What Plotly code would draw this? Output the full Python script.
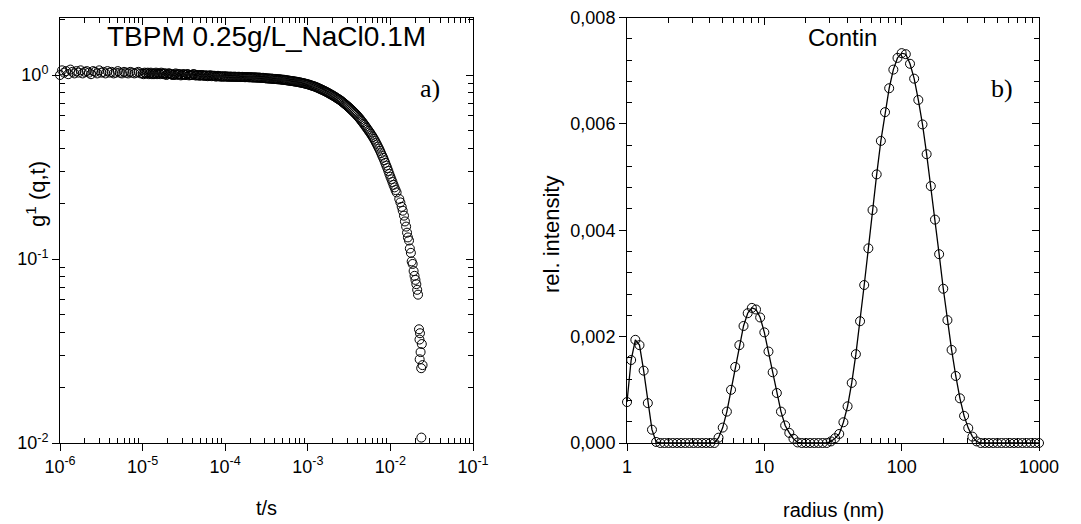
import plotly.graph_objects as go

# ---------------- Panel a): correlation function ----------------
t_s = [
    # 1e-6 .. 1e-5
    1.000e-6, 1.059e-6, 1.122e-6, 1.189e-6, 1.259e-6, 1.334e-6, 1.413e-6, 1.496e-6, 1.585e-6, 1.679e-6,
    1.778e-6, 1.884e-6, 1.995e-6, 2.113e-6, 2.239e-6, 2.371e-6, 2.512e-6, 2.661e-6, 2.818e-6, 2.985e-6,
    3.162e-6, 3.350e-6, 3.548e-6, 3.758e-6, 3.981e-6, 4.217e-6, 4.467e-6, 4.732e-6, 5.012e-6, 5.309e-6,
    5.623e-6, 5.957e-6, 6.310e-6, 6.683e-6, 7.079e-6, 7.499e-6, 7.943e-6, 8.414e-6, 8.913e-6, 9.441e-6,
    # 1e-5 .. 1e-4
    1.000e-5, 1.029e-5, 1.059e-5, 1.090e-5, 1.122e-5, 1.155e-5, 1.189e-5, 1.224e-5, 1.259e-5, 1.296e-5,
    1.334e-5, 1.373e-5, 1.413e-5, 1.454e-5, 1.496e-5, 1.540e-5, 1.585e-5, 1.631e-5, 1.679e-5, 1.728e-5,
    1.778e-5, 1.830e-5, 1.884e-5, 1.939e-5, 1.995e-5, 2.054e-5, 2.113e-5, 2.175e-5, 2.239e-5, 2.304e-5,
    2.371e-5, 2.440e-5, 2.512e-5, 2.585e-5, 2.661e-5, 2.739e-5, 2.818e-5, 2.901e-5, 2.985e-5, 3.072e-5,
    3.162e-5, 3.255e-5, 3.350e-5, 3.448e-5, 3.548e-5, 3.652e-5, 3.758e-5, 3.868e-5, 3.981e-5, 4.097e-5,
    4.217e-5, 4.340e-5, 4.467e-5, 4.597e-5, 4.732e-5, 4.870e-5, 5.012e-5, 5.158e-5, 5.309e-5, 5.464e-5,
    5.623e-5, 5.788e-5, 5.957e-5, 6.131e-5, 6.310e-5, 6.494e-5, 6.683e-5, 6.879e-5, 7.079e-5, 7.286e-5,
    7.499e-5, 7.718e-5, 7.943e-5, 8.175e-5, 8.414e-5, 8.660e-5, 8.913e-5, 9.173e-5, 9.441e-5, 9.716e-5,
    # 1e-4 .. 1e-3
    1.000e-4, 1.029e-4, 1.059e-4, 1.090e-4, 1.122e-4, 1.155e-4, 1.189e-4, 1.224e-4, 1.259e-4, 1.296e-4,
    1.334e-4, 1.373e-4, 1.413e-4, 1.454e-4, 1.496e-4, 1.540e-4, 1.585e-4, 1.631e-4, 1.679e-4, 1.728e-4,
    1.778e-4, 1.830e-4, 1.884e-4, 1.939e-4, 1.995e-4, 2.054e-4, 2.113e-4, 2.175e-4, 2.239e-4, 2.304e-4,
    2.371e-4, 2.440e-4, 2.512e-4, 2.585e-4, 2.661e-4, 2.739e-4, 2.818e-4, 2.901e-4, 2.985e-4, 3.072e-4,
    3.162e-4, 3.255e-4, 3.350e-4, 3.448e-4, 3.548e-4, 3.652e-4, 3.758e-4, 3.868e-4, 3.981e-4, 4.097e-4,
    4.217e-4, 4.340e-4, 4.467e-4, 4.597e-4, 4.732e-4, 4.870e-4, 5.012e-4, 5.158e-4, 5.309e-4, 5.464e-4,
    5.623e-4, 5.788e-4, 5.957e-4, 6.131e-4, 6.310e-4, 6.494e-4, 6.683e-4, 6.879e-4, 7.079e-4, 7.286e-4,
    7.499e-4, 7.718e-4, 7.943e-4, 8.175e-4, 8.414e-4, 8.660e-4, 8.913e-4, 9.173e-4, 9.441e-4, 9.716e-4,
    # 1e-3 .. 1e-2
    1.000e-3, 1.029e-3, 1.059e-3, 1.090e-3, 1.122e-3, 1.155e-3, 1.189e-3, 1.224e-3, 1.259e-3, 1.296e-3,
    1.334e-3, 1.373e-3, 1.413e-3, 1.454e-3, 1.496e-3, 1.540e-3, 1.585e-3, 1.631e-3, 1.679e-3, 1.728e-3,
    1.778e-3, 1.830e-3, 1.884e-3, 1.939e-3, 1.995e-3, 2.054e-3, 2.113e-3, 2.175e-3, 2.239e-3, 2.304e-3,
    2.371e-3, 2.440e-3, 2.512e-3, 2.585e-3, 2.661e-3, 2.739e-3, 2.818e-3, 2.901e-3, 2.985e-3, 3.072e-3,
    3.162e-3, 3.255e-3, 3.350e-3, 3.448e-3, 3.548e-3, 3.652e-3, 3.758e-3, 3.868e-3, 3.981e-3, 4.097e-3,
    4.217e-3, 4.340e-3, 4.467e-3, 4.597e-3, 4.732e-3, 4.870e-3, 5.012e-3, 5.158e-3, 5.309e-3, 5.464e-3,
    5.623e-3, 5.788e-3, 5.957e-3, 6.131e-3, 6.310e-3, 6.494e-3, 6.683e-3, 6.879e-3, 7.079e-3, 7.286e-3,
    7.499e-3, 7.718e-3, 7.943e-3, 8.175e-3, 8.414e-3, 8.660e-3, 8.913e-3, 9.173e-3, 9.441e-3, 9.716e-3,
    # 1e-2 onwards (end of dense band, then the resolved tail)
    1.000e-2, 1.029e-2, 1.059e-2, 1.090e-2, 1.122e-2, 1.155e-2, 1.189e-2,
    0.0128, 0.0132, 0.0137, 0.0141, 0.0146, 0.0150, 0.0155, 0.0159, 0.0163, 0.0168,
    0.0172, 0.0177, 0.0181, 0.0186, 0.0191, 0.0196, 0.0201, 0.0206, 0.0211, 0.0216,
    0.0222, 0.0228, 0.0225, 0.0240, 0.0232, 0.0226, 0.0245, 0.0236,
    0.0237,
]

g1 = [
    # 1e-6 .. 1e-5
    1.00, 1.06, 1.03, 1.05, 1.01, 1.07, 1.04, 1.02, 1.05, 1.03,
    1.06, 1.02, 1.04, 1.05, 1.03, 1.01, 1.05, 1.04, 1.02, 1.06,
    1.03, 1.04, 1.02, 1.05, 1.03, 1.04, 1.02, 1.03, 1.05, 1.03,
    1.02, 1.04, 1.03, 1.02, 1.04, 1.03, 1.02, 1.03, 1.04, 1.02,
    # 1e-5 .. 1e-4
    1.02, 1.01, 1.03, 1.02, 1.02, 1.03, 1.01, 1.02, 1.03, 1.01,
    1.02, 1.01, 1.02, 1.03, 1.01, 1.02, 1.02, 1.01, 1.03, 1.02,
    1.01, 1.02, 1.02, 1.00, 1.01, 1.02, 1.02, 1.01, 1.01, 1.00,
    1.00, 1.01, 1.02, 1.00, 1.01, 1.01, 1.01, 0.995, 1.00, 1.01,
    1.01, 1.00, 1.00, 1.01, 1.01, 0.995, 1.00, 1.00, 1.00, 1.01,
    1.01, 0.995, 0.995, 1.00, 1.00, 0.99, 0.995, 1.00, 1.00, 0.99,
    0.99, 0.995, 0.995, 0.985, 0.99, 0.995, 0.995, 0.985, 0.99, 0.99,
    0.99, 0.98, 0.985, 0.99, 0.985, 0.98, 0.985, 0.98, 0.98, 0.985,
    # 1e-4 .. 1e-3
    0.980, 0.982, 0.981, 0.978, 0.979, 0.980, 0.979, 0.977, 0.978, 0.979,
    0.978, 0.976, 0.977, 0.978, 0.977, 0.975, 0.976, 0.977, 0.975, 0.973,
    0.973, 0.975, 0.974, 0.971, 0.972, 0.973, 0.971, 0.969, 0.970, 0.971,
    0.969, 0.967, 0.968, 0.968, 0.966, 0.964, 0.965, 0.965, 0.963, 0.960,
    0.958, 0.959, 0.958, 0.955, 0.955, 0.956, 0.954, 0.951, 0.952, 0.952,
    0.950, 0.947, 0.948, 0.947, 0.945, 0.942, 0.943, 0.942, 0.940, 0.937,
    0.935, 0.934, 0.932, 0.929, 0.928, 0.927, 0.925, 0.922, 0.921, 0.919,
    0.917, 0.914, 0.912, 0.910, 0.907, 0.905, 0.902, 0.899, 0.896, 0.893,
    # 1e-3 .. 1e-2
    0.890, 0.887, 0.883, 0.879, 0.875, 0.872, 0.868, 0.864, 0.860, 0.855,
    0.850, 0.845, 0.840, 0.835, 0.830, 0.825, 0.820, 0.815, 0.809, 0.804,
    0.798, 0.792, 0.786, 0.781, 0.775, 0.769, 0.763, 0.757, 0.750, 0.744,
    0.738, 0.732, 0.725, 0.718, 0.710, 0.703, 0.695, 0.688, 0.680, 0.673,
    0.665, 0.657, 0.649, 0.641, 0.633, 0.625, 0.617, 0.609, 0.600, 0.591,
    0.582, 0.573, 0.563, 0.554, 0.544, 0.535, 0.525, 0.516, 0.506, 0.497,
    0.488, 0.479, 0.469, 0.460, 0.450, 0.440, 0.429, 0.419, 0.408, 0.398,
    0.387, 0.376, 0.365, 0.355, 0.344, 0.333, 0.322, 0.312, 0.301, 0.290,
    # 1e-2 onwards
    0.280, 0.271, 0.262, 0.253, 0.245, 0.237, 0.230,
    0.212, 0.203, 0.192, 0.183, 0.172, 0.160, 0.150, 0.139, 0.131, 0.126,
    0.114, 0.108, 0.097, 0.094, 0.086, 0.081, 0.077, 0.073, 0.068, 0.064,
    0.0415, 0.0395, 0.0365, 0.0345, 0.0312, 0.0285, 0.0265, 0.0255,
    0.0107,
]

# ---------------- Panel b): CONTIN distribution ----------------
radius_nm = [
    1.000, 1.072, 1.150, 1.233, 1.322, 1.418, 1.520, 1.630, 1.748, 1.874,
    2.009, 2.154, 2.310, 2.477, 2.656, 2.848, 3.054, 3.275, 3.511, 3.765,
    4.037, 4.329, 4.642, 4.977, 5.337, 5.722, 6.136, 6.579, 7.055, 7.565,
    8.111, 8.698, 9.326,
    10.00, 10.72, 11.50, 12.33, 13.22, 14.18, 15.20, 16.30, 17.48, 18.74,
    20.09, 21.54, 23.10, 24.77, 26.56, 28.48, 30.54, 32.75, 35.11, 37.65,
    40.37, 43.29, 46.42, 49.77, 53.37, 57.22, 61.36, 65.79, 70.55, 75.65,
    81.11, 86.98, 93.26,
    100.0, 107.2, 115.0, 123.3, 132.2, 141.8, 152.0, 163.0, 174.8, 187.4,
    200.9, 215.4, 231.0, 247.7, 265.6, 284.8, 305.4, 327.5, 351.1, 376.5,
    403.7, 432.9, 464.2, 497.7, 533.7, 572.2, 613.6, 657.9, 705.5, 756.5,
    811.1, 869.8, 932.6,
    1000.0,
]

rel_intensity = [
    0.00077, 0.00156, 0.00194, 0.00184, 0.00136, 0.00075, 0.00025, 0.00002,
    0, 0, 0, 0, 0, 0, 0, 0, 0, 0, 0, 0, 0, 0,
    0.00010, 0.00029, 0.00059, 0.00100, 0.00143, 0.00184, 0.00220, 0.00244, 0.00254, 0.00251,
    0.00236, 0.00208, 0.00172, 0.00133, 0.00094, 0.00059, 0.00033, 0.00019, 0.00008, 0.00001,
    0, 0, 0, 0, 0, 0, 0,
    0.00003, 0.00009, 0.00017, 0.00039, 0.00069, 0.00113, 0.00167, 0.00229, 0.00297, 0.00366,
    0.00438, 0.00505, 0.00568, 0.00622, 0.00667, 0.00702, 0.00724, 0.00733, 0.00731, 0.00713,
    0.00685, 0.00645, 0.00599, 0.00543, 0.00483, 0.00420, 0.00355, 0.00290, 0.00231, 0.00175,
    0.00126, 0.00084, 0.00051, 0.00028, 0.00012, 0.00003,
    0, 0, 0, 0, 0, 0, 0, 0, 0, 0, 0, 0, 0, 0, 0,
]

# tick labels
t_ticks = [1e-6, 1e-5, 1e-4, 1e-3, 1e-2, 1e-1]
t_ticktext = ["10<sup>-6</sup>", "10<sup>-5</sup>", "10<sup>-4</sup>",
              "10<sup>-3</sup>", "10<sup>-2</sup>", "10<sup>-1</sup>"]
g_ticks = [1e-2, 1e-1, 1]
g_ticktext = ["10<sup>-2</sup>", "10<sup>-1</sup>", "10<sup>0</sup>"]
r_ticks = [1, 10, 100, 1000]
r_ticktext = ["1", "10", "100", "1000"]
i_ticks = [0, 0.002, 0.004, 0.006, 0.008]
i_ticktext = ["0,000", "0,002", "0,004", "0,006", "0,008"]

# ---------------- layout geometry ----------------
# the page body has an 8 px margin, so the figure is drawn 8 px in from the window corner
OFF = 8
W, H = 1081 - OFF, 524 - OFF
def px(x):
    return (x - OFF) / W
def py(y):
    return 1 - (y - OFF) / H

xa_dom = [px(60), px(473)]
xb_dom = [px(627), px(1039)]
y_dom = [py(443), py(17.5)]

FONT = "Liberation Sans, Arial, sans-serif"
SERIF = "Liberation Serif, Times New Roman, serif"

minor_t = [m * 10.0 ** e for e in range(-6, -1) for m in range(2, 10)]
minor_g = [m * 10.0 ** e for e in range(-2, 1) for m in range(2, 10)]
minor_r = [m * 10.0 ** e for e in range(0, 3) for m in range(2, 10)]
minor_i = [k * 0.0004 for k in range(0, 21) if k % 5 != 0]


def axis_common(**kw):
    d = dict(showline=True, linecolor="black", linewidth=1, showgrid=False,
             zeroline=False, ticks="outside", ticklen=7, tickwidth=1,
             tickcolor="black", tickfont=dict(family=FONT, size=18, color="black"),
             tickmode="array", automargin=False, ticklabeloverflow="allow")
    d.update(kw)
    return d


def mirror_axis(**kw):
    d = dict(showline=True, linecolor="black", linewidth=1, showgrid=False,
             zeroline=False, ticks="inside", ticklen=7, tickwidth=1,
             tickcolor="black", showticklabels=False, tickmode="array",
             automargin=False)
    d.update(kw)
    return d

marker = dict(symbol="circle-open", size=9, color="black", line=dict(width=1, color="black"))

fig = go.Figure()
fig.add_trace(go.Scatter(x=t_s, y=g1, mode="markers", marker=marker,
                         xaxis="x", yaxis="y", cliponaxis=False, showlegend=False))
fig.add_trace(go.Scatter(x=radius_nm, y=rel_intensity, mode="lines+markers", marker=marker,
                         line=dict(color="black", width=1.3),
                         xaxis="x2", yaxis="y2", cliponaxis=False, showlegend=False))
# empty helper traces so that the mirror (top / right) axes are drawn
fig.add_trace(go.Scatter(x=[None], y=[None], xaxis="x3", yaxis="y", showlegend=False, hoverinfo="skip"))
fig.add_trace(go.Scatter(x=[None], y=[None], xaxis="x", yaxis="y3", showlegend=False, hoverinfo="skip"))
fig.add_trace(go.Scatter(x=[None], y=[None], xaxis="x4", yaxis="y2", showlegend=False, hoverinfo="skip"))
fig.add_trace(go.Scatter(x=[None], y=[None], xaxis="x2", yaxis="y4", showlegend=False, hoverinfo="skip"))

minor_in = dict(ticks="inside", ticklen=5, tickwidth=1, tickcolor="black", showgrid=False, tickmode="array")

fig.update_layout(
    width=W, height=H,
    margin=dict(l=0, r=0, t=0, b=0, autoexpand=False),
    paper_bgcolor="white", plot_bgcolor="white",
    showlegend=False,
    xaxis=axis_common(domain=xa_dom, anchor="y", type="log", range=[-6, -1],
                      tickvals=t_ticks, ticktext=t_ticktext,
                      minor=dict(minor_in, tickvals=minor_t)),
    yaxis=axis_common(domain=y_dom, anchor="x", type="log", range=[-2, 0.3125],
                      tickvals=g_ticks, ticktext=g_ticktext,
                      minor=dict(minor_in, tickvals=minor_g)),
    xaxis3=mirror_axis(overlaying="x", anchor="y", side="top", type="log", range=[-6, -1],
                       tickvals=t_ticks, minor=dict(minor_in, tickvals=minor_t)),
    yaxis3=mirror_axis(overlaying="y", anchor="x", side="right", type="log", range=[-2, 0.3125],
                       tickvals=g_ticks, minor=dict(minor_in, tickvals=minor_g)),
    xaxis2=axis_common(domain=xb_dom, anchor="y2", type="log", range=[0, 3],
                       tickvals=r_ticks, ticktext=r_ticktext,
                       minor=dict(minor_in, tickvals=minor_r)),
    yaxis2=axis_common(domain=y_dom, anchor="x2", range=[0, 0.008],
                       tickvals=i_ticks, ticktext=i_ticktext,
                       minor=dict(minor_in, tickvals=minor_i)),
    xaxis4=mirror_axis(overlaying="x2", anchor="y2", side="top", type="log", range=[0, 3],
                       tickvals=r_ticks, minor=dict(minor_in, tickvals=minor_r)),
    yaxis4=mirror_axis(overlaying="y2", anchor="x2", side="right", range=[0, 0.008],
                       tickvals=i_ticks, minor=dict(minor_in, tickvals=minor_i)),
)

ann = [
    dict(text="TBPM 0.25g/L_NaCl0.1M", x=px(266), y=py(37), font=dict(family=FONT, size=28)),
    dict(text="a)", x=px(430), y=py(88), font=dict(family=SERIF, size=26)),
    dict(text="Contin", x=px(842), y=py(38), font=dict(family=FONT, size=24)),
    dict(text="b)", x=px(1002), y=py(88), font=dict(family=SERIF, size=26)),
    dict(text="t/s", x=px(266), y=py(508), font=dict(family=FONT, size=20)),
    dict(text="radius (nm)", x=px(833), y=py(510), font=dict(family=FONT, size=20)),
    dict(text="g<sup>1</sup> (q,t)", x=px(36), y=py(194), textangle=-90, font=dict(family=FONT, size=22)),
    dict(text="rel. intensity", x=px(551), y=py(235), textangle=-90, font=dict(family=FONT, size=22)),
]
for a in ann:
    a["font"]["color"] = "black"
    fig.add_annotation(xref="paper", yref="paper", xanchor="center", yanchor="middle",
                       showarrow=False, **a)

fig.write_html("out.html")
